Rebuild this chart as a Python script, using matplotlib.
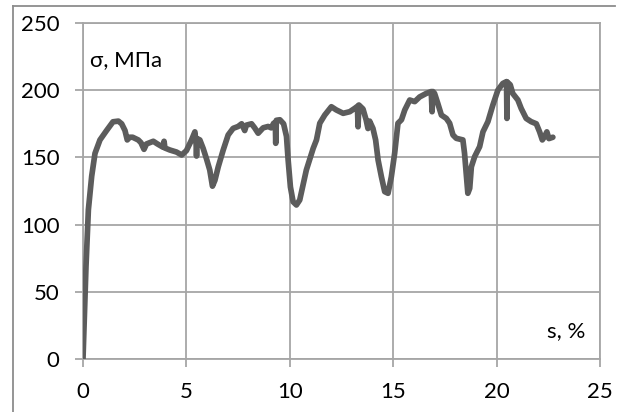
import matplotlib
matplotlib.use("Agg")
from matplotlib import pyplot as plt
from matplotlib.lines import Line2D

plt.rcParams['font.family'] = ['Lato', 'DejaVu Sans']

# деформация s, %
strain = [0.0, 0.145, 0.26, 0.42, 0.58, 0.82, 1.14, 1.45, 1.71, 1.87, 2.03, 2.14,
          2.25, 2.4, 2.67, 2.8, 2.95, 3.07, 3.4, 3.6, 3.88, 3.92, 3.96, 4.2, 4.52,
          4.77, 5.0, 5.25, 5.41, 5.47, 5.49, 5.52, 5.65, 5.81, 5.97, 6.13, 6.26,
          6.38, 6.54, 6.78, 7.02, 7.26, 7.5, 7.67, 7.82, 7.9, 8.15, 8.3, 8.47,
          8.71, 8.95, 9.1, 9.22, 9.3, 9.32, 9.35, 9.52, 9.7, 9.84, 9.92, 10.03,
          10.16, 10.32, 10.48, 10.8, 11.13, 11.29, 11.45, 11.69, 12.01, 12.25,
          12.58, 12.9, 13.14, 13.27, 13.3, 13.34, 13.54, 13.69, 13.78, 13.86,
          14.02, 14.15, 14.27, 14.43, 14.59, 14.75, 14.91, 15.07, 15.23, 15.4,
          15.56, 15.8, 16.04, 16.28, 16.6, 16.84, 16.88, 16.92, 17.0, 17.16,
          17.33, 17.57, 17.73, 17.89, 18.05, 18.37, 18.45, 18.53, 18.61, 18.7,
          18.78, 18.94, 19.18, 19.34, 19.58, 19.82, 20.06, 20.3, 20.48, 20.5,
          20.52, 20.66, 20.78, 21.03, 21.19, 21.43, 21.67, 21.92, 22.08, 22.21,
          22.32, 22.43, 22.53, 22.72]
# напряжение, МПа
stress = [0, 69, 111, 136, 153, 163, 170, 176.5, 177, 175, 170, 163,
          165, 165, 163, 161, 156, 160, 162, 160, 157.5, 162, 157, 155.5, 154,
          151.8, 155, 163, 169, 160, 151, 164, 163, 156.7, 149, 140.6, 128.6,
          133, 143, 155.5, 166.7, 171.6, 173, 175, 170, 174, 175, 172, 168,
          172, 173, 172, 175.4, 176, 160.5, 177.6, 178, 175, 165.6, 148, 128,
          117, 114.6, 118.3, 140.6, 156.7, 163, 175.4, 181.5, 187.7, 185.3,
          182.8, 184, 186.5, 188, 172.8, 189, 186, 178, 171.5, 177,
          171.6, 163, 148, 135.6, 124.5, 123.3, 135.6, 153, 175.4, 178,
          185.3, 192.7, 191.5, 195, 197.6, 199, 184, 199, 197.6, 190,
          181.5, 179, 175.4, 166.7, 164.2, 163, 153, 138, 123.3, 127,
          143, 150.6, 158, 169, 176.6, 189, 200, 205, 206.4, 179,
          206, 204, 197.6, 192.7, 186.4, 179, 176.6, 175, 169, 163,
          165.5, 169, 164, 165]

xticks = [0, 5, 10, 15, 20, 25]
yticks = [0, 50, 100, 150, 200, 250]

grid_col = '#a6a6a6'

fig = plt.figure(figsize=(6.21, 4.12), dpi=100)
ax = fig.add_axes([83 / 621, 1 - 359 / 412, (600 - 83) / 621, (359 - 23) / 412])

ax.plot(strain, stress, color='#5c5c5c', linewidth=4.1, solid_joinstyle='round',
        solid_capstyle='round', zorder=3)

ax.set_xlim(0, 25)
ax.set_ylim(0, 250)
ax.set_xticks(xticks)
ax.set_yticks(yticks)
ax.grid(True, color=grid_col, linewidth=1.3)
for sp in ax.spines.values():
    sp.set_color(grid_col)
    sp.set_linewidth(1.3)
ax.tick_params(direction='out', length=5.8, width=1.3, color=grid_col,
               labelsize=16, labelcolor='black')
ax.tick_params(axis='x', pad=11)
ax.tick_params(axis='y', pad=11)

ax.text(0.34, 218, 'σ, МПа', fontsize=16)
ax.text(24.3, 16, 's, %', fontsize=16, ha='right')

# рамка области диаграммы
frame = '#8c8c8c'
fig.add_artist(Line2D([13 / 621, 615 / 621], [1 - 6 / 412, 1 - 6 / 412],
                      transform=fig.transFigure, color=frame, linewidth=1.3))
fig.add_artist(Line2D([13 / 621, 13 / 621], [1 - 6 / 412, 0],
                      transform=fig.transFigure, color=frame, linewidth=1.3))

fig.savefig('out.png', dpi=100)
